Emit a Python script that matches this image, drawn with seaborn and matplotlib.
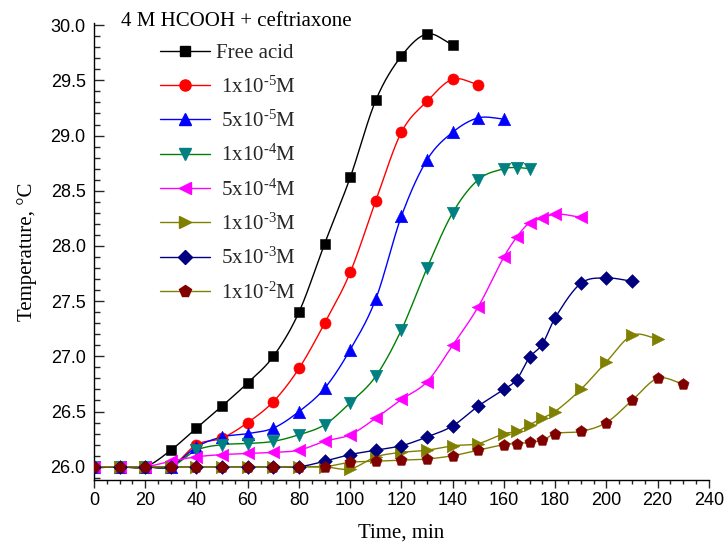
import numpy as np
import matplotlib
matplotlib.use("Agg")
import matplotlib.pyplot as plt
from matplotlib.lines import Line2D
from matplotlib.ticker import MultipleLocator, FormatStrFormatter
import seaborn as sns

# ---- data: temperature (°C) vs time (min) ----
t_free = [0, 10, 20, 30, 40, 50, 60, 70, 80, 90, 100, 110, 120, 130, 140]
T_free = [26.0, 26.0, 26.0, 26.15, 26.35, 26.55, 26.76, 27.0, 27.4, 28.02, 28.62, 29.32, 29.72, 29.92, 29.82]

t_1e5 = [0, 10, 20, 30, 40, 50, 60, 70, 80, 90, 100, 110, 120, 130, 140, 150]
T_1e5 = [26.0, 26.0, 26.0, 26.0, 26.2, 26.26, 26.40, 26.59, 26.89, 27.30, 27.76, 28.41, 29.03, 29.31, 29.51, 29.46]

t_5e5 = [0, 10, 20, 30, 40, 50, 60, 70, 80, 90, 100, 110, 120, 130, 140, 150, 160]
T_5e5 = [26.0, 26.0, 26.0, 26.0, 26.18, 26.27, 26.30, 26.35, 26.50, 26.71, 27.06, 27.52, 28.27, 28.78, 29.03, 29.16, 29.15]

t_1e4 = [0, 10, 20, 30, 40, 50, 60, 70, 80, 90, 100, 110, 120, 130, 140, 150, 160, 165, 170]
T_1e4 = [26.0, 26.0, 26.0, 26.0, 26.15, 26.2, 26.21, 26.23, 26.29, 26.38, 26.58, 26.82, 27.24, 27.80, 28.30, 28.60, 28.70, 28.71, 28.70]

t_5e4 = [0, 10, 20, 30, 40, 50, 60, 70, 80, 90, 100, 110, 120, 130, 140, 150, 160, 165, 170, 175, 180, 190]
T_5e4 = [26.0, 26.0, 26.0, 26.05, 26.09, 26.11, 26.12, 26.13, 26.15, 26.23, 26.29, 26.44, 26.61, 26.77, 27.10, 27.45,
         27.90, 28.08, 28.21, 28.25, 28.29, 28.26]

t_1e3 = [0, 10, 20, 30, 40, 50, 60, 70, 80, 90, 100, 110, 120, 130, 140, 150, 160, 165, 170, 175, 180, 190, 200, 210, 220]
T_1e3 = [26.0, 26.0, 26.0, 26.0, 26.0, 26.0, 26.0, 26.0, 26.0, 26.0, 25.98, 26.09, 26.13, 26.15, 26.19, 26.21,
         26.30, 26.32, 26.38, 26.44, 26.50, 26.70, 26.95, 27.19, 27.16]

t_5e3 = [0, 10, 20, 30, 40, 50, 60, 70, 80, 90, 100, 110, 120, 130, 140, 150, 160, 165, 170, 175, 180, 190, 200, 210]
T_5e3 = [26.0, 26.0, 26.0, 26.0, 26.0, 26.0, 26.0, 26.0, 26.0, 26.05, 26.11, 26.15, 26.19, 26.27, 26.37, 26.55,
         26.70, 26.79, 26.99, 27.11, 27.35, 27.66, 27.71, 27.68]

t_1e2 = [0, 10, 20, 30, 40, 50, 60, 70, 80, 90, 100, 110, 120, 130, 140, 150, 160, 165, 170, 175, 180, 190, 200, 210, 220, 230]
T_1e2 = [26.0, 26.0, 26.0, 26.0, 26.0, 26.0, 26.0, 26.0, 26.0, 26.0, 26.04, 26.05, 26.06, 26.07, 26.10, 26.15,
         26.20, 26.21, 26.22, 26.24, 26.30, 26.32, 26.40, 26.60, 26.80, 26.75]

labels = ["Free acid", r" 1x10$^{\mathrm{‐5}}$M", r" 5x10$^{\mathrm{‐5}}$M", r" 1x10$^{\mathrm{‐4}}$M",
          r" 5x10$^{\mathrm{‐4}}$M", r" 1x10$^{\mathrm{‐3}}$M", r" 5x10$^{\mathrm{‐3}}$M", r" 1x10$^{\mathrm{‐2}}$M"]

series = [
    (t_free, T_free, "s", "#000000", "#000000", 7.0),
    (t_1e5, T_1e5, "o", "#FF0000", "#FF0000", 8.0),
    (t_5e5, T_5e5, "^", "#0000FF", "#0000FF", 9.0),
    (t_1e4, T_1e4, "v", "#008000", "#008080", 9.0),
    (t_5e4, T_5e4, "<", "#FF00FF", "#FF00FF", 9.0),
    (t_1e3, T_1e3, ">", "#808000", "#808000", 9.0),
    (t_5e3, T_5e3, "D", "#000080", "#000080", 7.0),
    (t_1e2, T_1e2, "p", "#808000", "#800000", 8.5),
]


def hermite_curve(x, y, n=24):
    """Smooth curve through the points (cubic Hermite, Catmull-Rom tangents)."""
    x = np.asarray(x, float)
    y = np.asarray(y, float)
    m = np.empty_like(y)
    m[1:-1] = (y[2:] - y[:-2]) / (x[2:] - x[:-2])
    m[0] = (y[1] - y[0]) / (x[1] - x[0])
    m[-1] = (y[-1] - y[-2]) / (x[-1] - x[-2])
    xs, ys = [], []
    for i in range(len(x) - 1):
        h = x[i + 1] - x[i]
        s = np.linspace(0, 1, n, endpoint=(i == len(x) - 2))
        h00 = 2 * s**3 - 3 * s**2 + 1
        h10 = s**3 - 2 * s**2 + s
        h01 = -2 * s**3 + 3 * s**2
        h11 = s**3 - s**2
        xs.append(x[i] + s * h)
        ys.append(h00 * y[i] + h10 * h * m[i] + h01 * y[i + 1] + h11 * h * m[i + 1])
    return np.concatenate(xs), np.concatenate(ys)


sns.set_theme(style="white")
plt.rcParams["font.family"] = ["Liberation Serif", "DejaVu Serif"]
plt.rcParams["mathtext.fontset"] = "custom"
plt.rcParams["mathtext.rm"] = "Liberation Serif"
plt.rcParams["mathtext.it"] = "Liberation Serif:italic"

fig = plt.figure(figsize=(7.25, 5.5), dpi=100)
ax = fig.add_axes([0.1297, 0.1273, 0.848, 0.831])

handles = []
for (tx, ty, mk, lc, mc, ms), lab in zip(series, labels):
    xs, ys = hermite_curve(tx, ty)
    sns.lineplot(x=xs, y=ys, color=lc, lw=1.0, ax=ax, sort=False, estimator=None, zorder=2)
    sns.scatterplot(x=tx, y=ty, marker=mk, color=mc, s=ms**2, edgecolor=mc, linewidth=0.4, ax=ax, zorder=3)
    handles.append(Line2D([], [], color=lc, lw=1.0, marker=mk, markersize=ms,
                          markerfacecolor=mc, markeredgecolor=mc, label=lab))

ax.set_xlim(0, 240)
ax.set_ylim(25.88, 30.02)

for side in ["top", "right"]:
    ax.spines[side].set_visible(False)
for side in ["left", "bottom"]:
    ax.spines[side].set_color("black")
    ax.spines[side].set_linewidth(1.0)

ax.xaxis.set_major_locator(MultipleLocator(20))
ax.xaxis.set_minor_locator(MultipleLocator(5))
ax.yaxis.set_major_locator(MultipleLocator(0.5))
ax.yaxis.set_minor_locator(MultipleLocator(0.1))
ax.yaxis.set_major_formatter(FormatStrFormatter("%.1f"))

ax.tick_params(axis="x", which="major", direction="out", length=6, width=1, pad=3, bottom=True)
ax.tick_params(axis="x", which="minor", direction="out", length=3, width=1, bottom=True)
ax.tick_params(axis="y", which="major", direction="in", length=7, width=1, pad=6, left=True)
ax.tick_params(axis="y", which="minor", direction="in", length=4, width=1, left=True)

tick_font = ["Liberation Sans Narrow", "Liberation Sans", "DejaVu Sans"]
for lbl in ax.get_xticklabels() + ax.get_yticklabels():
    lbl.set_family(tick_font)
    lbl.set_fontsize(13)
    lbl.set_color("black")

ax.set_xlabel("Time, min", fontsize=15, labelpad=10, color="black")
ax.set_ylabel("Temperature, °C", fontsize=15, labelpad=10, color="black")
ax.grid(False)

ax.text(0.044, 1.003, "4 M HCOOH + ceftriaxone", transform=ax.transAxes, fontsize=15,
        ha="left", va="center", color="black")

leg = ax.legend(handles=handles, loc="upper left", bbox_to_anchor=(0.107, 0.955), frameon=False,
                fontsize=15, handlelength=2.4, handletextpad=0.3, labelspacing=0.63,
                borderaxespad=0, borderpad=0)

fig.savefig("out.png", dpi=100)
